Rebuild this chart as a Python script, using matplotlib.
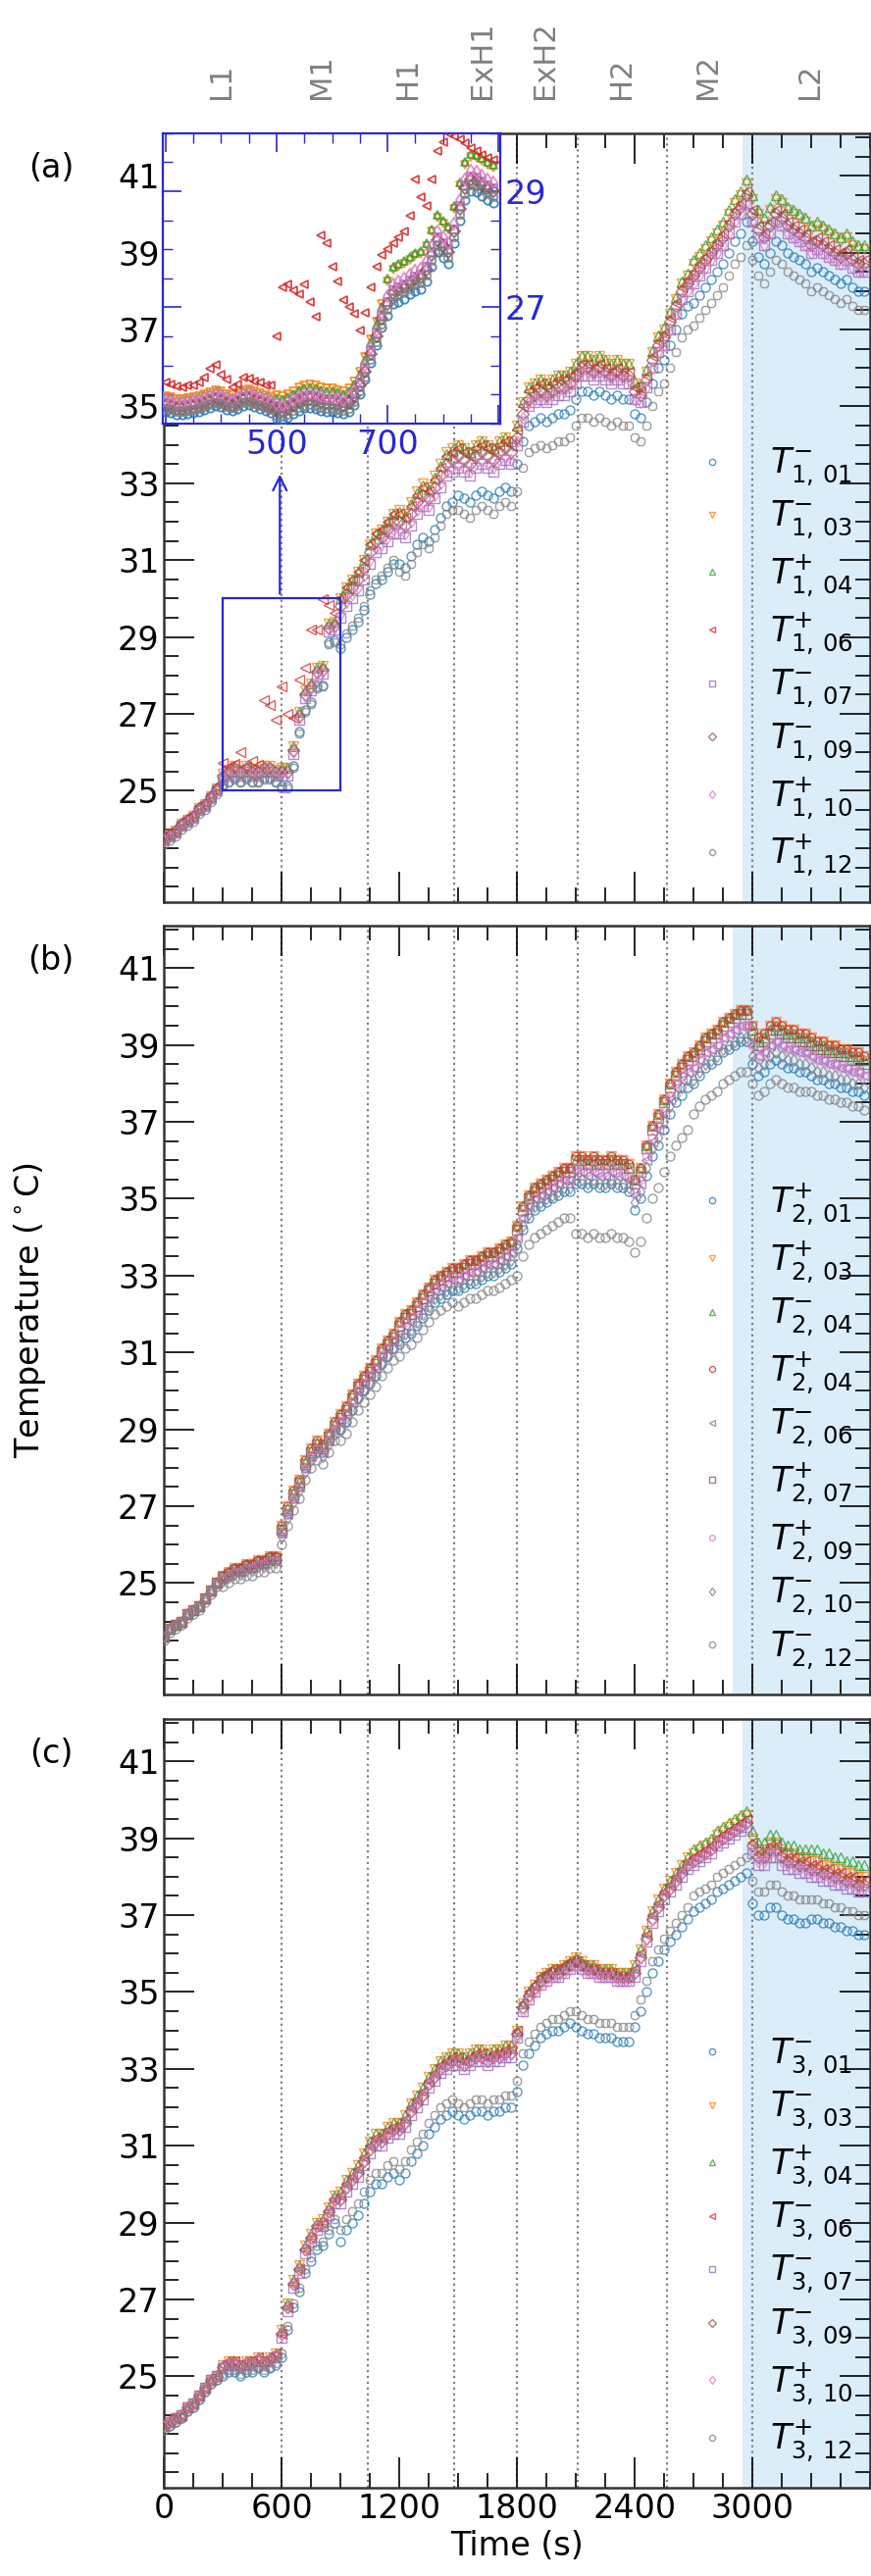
import numpy as np
import matplotlib.pyplot as plt
from matplotlib.patches import Rectangle
from matplotlib.ticker import MultipleLocator
import matplotlib.transforms as mtransforms

# time grid of the main panels (s)
t = np.arange(0, 3600, 30)

# phase boundaries and labels
vlines = [600, 1040, 1480, 1800, 2110, 2565, 3000]
phase_names = ['L1', 'M1', 'H1', 'ExH1', 'ExH2', 'H2', 'M2', 'L2']
phase_pos = [290, 800, 1240, 1620, 1940, 2330, 2770, 3290]
shade_start = [2950, 2900, 2950]

# panel (a) middle curve, every 30 s
base_a = [23.7, 23.8, 23.9, 24.1, 24.2, 24.3, 24.5, 24.6, 24.8, 25.0,
          25.3, 25.4, 25.5, 25.4, 25.5, 25.4, 25.4, 25.5, 25.5, 25.4,
          25.4, 25.4, 25.95, 26.85, 27.4, 27.6, 28.0, 28.05, 29.15, 29.2,
          29.5, 29.8, 30.0, 30.2, 30.5, 30.9, 31.2, 31.3, 31.5, 31.7,
          31.7, 31.6, 31.9, 32.2, 32.4, 32.3, 32.6, 32.9, 33.2, 33.3,
          33.4, 33.3, 33.2, 33.4, 33.5, 33.4, 33.3, 33.5, 33.6, 33.5,
          34.0, 34.6, 35.0, 35.1, 35.2, 35.1, 35.2, 35.3, 35.3, 35.4,
          35.6, 35.8, 35.8, 35.7, 35.8, 35.7, 35.6, 35.7, 35.6, 35.6,
          35.2, 35.1, 35.5, 36.0, 36.4, 36.6, 37.0, 37.4, 37.8, 38.0,
          38.2, 38.4, 38.6, 38.8, 39.0, 39.2, 39.5, 39.8, 40.0, 40.3,
          39.8, 39.4, 39.2, 39.5, 39.8, 39.7, 39.5, 39.4, 39.3, 39.2,
          39.0, 39.1, 39.0, 38.9, 38.8, 38.7, 38.8, 38.6, 38.5, 38.5]

base_b = [23.6, 23.8, 23.9, 24.0, 24.2, 24.3, 24.4, 24.6, 24.8, 25.0,
          25.1, 25.2, 25.3, 25.3, 25.4, 25.4, 25.5, 25.5, 25.6, 25.6,
          26.3, 26.8, 27.2, 27.5, 28.0, 28.3, 28.5, 28.4, 28.7, 29.0,
          29.2, 29.4, 29.7, 30.0, 30.2, 30.4, 30.6, 30.9, 31.1, 31.3,
          31.5, 31.7, 31.8, 32.0, 32.2, 32.4, 32.6, 32.7, 32.8, 32.9,
          32.9, 33.0, 33.1, 33.1, 33.2, 33.3, 33.3, 33.4, 33.5, 33.6,
          34.0, 34.5, 34.8, 35.0, 35.1, 35.2, 35.3, 35.4, 35.5, 35.5,
          35.7, 35.7, 35.6, 35.7, 35.6, 35.6, 35.7, 35.6, 35.6, 35.5,
          35.1, 35.4, 36.0, 36.5, 36.8, 37.2, 37.6, 37.9, 38.1, 38.3,
          38.4, 38.6, 38.8, 38.9, 39.0, 39.2, 39.3, 39.4, 39.5, 39.5,
          39.0, 38.7, 38.8, 39.0, 39.1, 39.0, 38.9, 38.9, 38.8, 38.8,
          38.7, 38.6, 38.6, 38.5, 38.5, 38.4, 38.4, 38.3, 38.3, 38.2]

base_c = [23.7, 23.8, 23.9, 24.0, 24.2, 24.3, 24.5, 24.7, 24.9, 25.0,
          25.2, 25.3, 25.3, 25.2, 25.3, 25.3, 25.4, 25.3, 25.4, 25.5,
          26.0, 26.7, 27.3, 27.7, 28.2, 28.5, 28.8, 28.9, 29.2, 29.5,
          29.5, 29.8, 30.0, 30.2, 30.5, 30.8, 31.0, 31.0, 31.2, 31.3,
          31.3, 31.5, 31.8, 32.0, 32.2, 32.5, 32.7, 32.9, 33.0, 33.1,
          33.1, 33.0, 33.1, 33.2, 33.2, 33.1, 33.2, 33.2, 33.3, 33.3,
          33.8, 34.5, 34.8, 35.0, 35.2, 35.3, 35.4, 35.4, 35.5, 35.6,
          35.7, 35.6, 35.5, 35.5, 35.4, 35.4, 35.4, 35.3, 35.3, 35.3,
          35.4, 35.8, 36.3, 36.8, 37.1, 37.4, 37.6, 37.8, 38.0, 38.2,
          38.3, 38.4, 38.5, 38.6, 38.8, 38.9, 39.0, 39.1, 39.2, 39.3,
          38.6, 38.3, 38.3, 38.5, 38.5, 38.3, 38.2, 38.2, 38.1, 38.1,
          38.0, 38.0, 37.9, 37.9, 37.8, 37.8, 37.7, 37.7, 37.6, 37.6]

# offsets of each sensor from the middle curve, one value per 300 s block
offs_a = [[0, -0.15, -0.3, -0.8, -0.8, -0.7, -0.5, -0.4, -0.4, -0.5, -0.5, -0.5],
          [0.05, 0.15, 0.2, 0.5, 0.6, 0.6, 0.5, 0.5, 0.4, 0.5, 0.6, 0.6],
          [0.05, 0.1, 0.2, 0.5, 0.55, 0.6, 0.5, 0.5, 0.45, 0.6, 0.7, 0.7],
          [0.1, 0.25, 0.4, 0.5, 0.5, 0.5, 0.4, 0.3, 0.3, 0.3, 0.3, 0.3],
          [0, 0, 0, 0, 0, 0, 0, 0, 0, 0, 0, 0],
          [0.05, 0.1, 0.1, 0.3, 0.3, 0.3, 0.2, 0.2, 0.2, 0.2, 0.2, 0.2],
          [0, 0.05, 0.05, 0.1, 0.1, 0.1, 0.1, 0.1, 0.0, 0.0, 0.0, 0.0],
          [-0.1, -0.2, -0.35, -0.7, -1.0, -1.1, -1.2, -1.1, -1.0, -1.1, -1.0, -1.0]]
offs_b = [[0, 0, 0, -0.2, -0.3, -0.3, -0.3, -0.3, -0.4, -0.4, -0.5, -0.5],
          [0, 0.1, 0.2, 0.2, 0.3, 0.3, 0.3, 0.4, 0.4, 0.4, 0.5, 0.5],
          [0, 0.1, 0.15, 0.2, 0.3, 0.3, 0.3, 0.3, 0.4, 0.4, 0.4, 0.4],
          [0, 0.1, 0.2, 0.2, 0.3, 0.3, 0.3, 0.4, 0.4, 0.4, 0.5, 0.5],
          [0, 0, 0, 0, 0, 0, 0, 0, 0, 0, 0, 0],
          [0, 0.05, 0.1, 0.1, 0.2, 0.2, 0.2, 0.3, 0.3, 0.3, 0.3, 0.3],
          [0, 0, 0, 0, 0.1, 0, 0, 0.1, 0.1, 0, 0, 0],
          [0, -0.05, -0.1, -0.2, -0.2, -0.2, -0.2, -0.2, -0.2, -0.3, -0.3, -0.3],
          [-0.1, -0.2, -0.3, -0.5, -0.6, -0.7, -1.0, -1.6, -1.5, -1.2, -1.0, -0.9]]
offs_c = [[-0.1, -0.2, -0.5, -1.0, -1.2, -1.3, -1.4, -1.6, -1.3, -1.2, -1.3, -1.1],
          [0, 0.1, 0.2, 0.3, 0.3, 0.3, 0.2, 0.2, 0.3, 0.3, 0.4, 0.4],
          [0, 0.1, 0.2, 0.3, 0.3, 0.3, 0.2, 0.2, 0.3, 0.4, 0.6, 0.7],
          [0, 0.1, 0.1, 0.2, 0.2, 0.2, 0.2, 0.1, 0.2, 0.2, 0.3, 0.3],
          [0, 0, 0, 0, 0, 0, 0, 0, 0, 0, 0, 0],
          [0, 0.05, 0.1, 0.1, 0.1, 0.1, 0.1, 0.1, 0.1, 0.1, 0.2, 0.2],
          [0, 0.05, 0.1, 0.1, 0.1, 0.1, 0.0, 0.0, 0.1, 0.1, 0.1, 0.1],
          [-0.1, -0.15, -0.4, -0.7, -0.9, -1.0, -1.1, -1.2, -1.0, -0.8, -0.7, -0.6]]

labels_a = ['$T^{-}_{1,\\,01}$', '$T^{-}_{1,\\,03}$', '$T^{+}_{1,\\,04}$', '$T^{+}_{1,\\,06}$',
            '$T^{-}_{1,\\,07}$', '$T^{-}_{1,\\,09}$', '$T^{+}_{1,\\,10}$', '$T^{+}_{1,\\,12}$']
labels_b = ['$T^{+}_{2,\\,01}$', '$T^{+}_{2,\\,03}$', '$T^{-}_{2,\\,04}$', '$T^{+}_{2,\\,04}$',
            '$T^{-}_{2,\\,06}$', '$T^{+}_{2,\\,07}$', '$T^{+}_{2,\\,09}$', '$T^{-}_{2,\\,10}$',
            '$T^{-}_{2,\\,12}$']
labels_c = ['$T^{-}_{3,\\,01}$', '$T^{-}_{3,\\,03}$', '$T^{+}_{3,\\,04}$', '$T^{-}_{3,\\,06}$',
            '$T^{-}_{3,\\,07}$', '$T^{-}_{3,\\,09}$', '$T^{+}_{3,\\,10}$', '$T^{+}_{3,\\,12}$']

markers_8 = ['o', 'v', '^', '<', 's', 'D', 'd', '8']
colors_8 = ['C0', 'C1', 'C2', 'C3', 'C4', 'C5', 'C6', 'C7']
markers_9 = ['o', 'v', '^', '8', '<', 's', 'h', 'd', 'o']
colors_9 = ['C0', 'C1', 'C2', 'C3', 'C4', 'C5', 'C6', 'C7', 'C7']

# inset: zoom of panel (a) between 300 and 900 s, every 10 s
t_in = np.arange(300, 900, 10)
base_in = [25.35, 25.33, 25.30, 25.30, 25.32, 25.33, 25.35, 25.38, 25.42, 25.45,
           25.43, 25.38, 25.36, 25.40, 25.45, 25.47, 25.44, 25.40, 25.37, 25.33,
           25.28, 25.27, 25.30, 25.36, 25.42, 25.46, 25.47, 25.45, 25.42, 25.40,
           25.40, 25.38, 25.36, 25.40, 25.52, 25.70, 25.95, 26.25, 26.55, 26.85,
           27.15, 27.35, 27.40, 27.45, 27.52, 27.58, 27.62, 27.75, 28.00, 28.25,
           28.15, 28.05, 28.40, 28.80, 29.15, 29.30, 29.28, 29.22, 29.15, 29.10]
offs_in = [[-0.15, -0.2, -0.3], [0.12, 0.2, 0.3], [0.1, 0.15, 0.35], [0, 0, 0],
           [0.0, 0.0, -0.05], [-0.05, -0.05, -0.1], [0.05, 0.05, 0.05], [-0.1, -0.15, -0.2]]
red_in = [25.71, 25.68, 25.64, 25.63, 25.66, 25.66, 25.70, 25.80, 25.95, 26.01,
          25.85, 25.76, 25.62, 25.68, 25.79, 25.78, 25.73, 25.70, 25.66, 25.65,
          26.50, 27.35, 27.40, 27.30, 27.23, 27.40, 27.10, 26.84, 28.24, 28.10,
          27.70, 27.45, 27.12, 27.00, 26.89, 26.61, 26.90, 27.35, 27.70, 27.90,
          28.00, 28.10, 28.20, 28.30, 28.58, 29.20, 28.90, 28.75, 29.20, 29.70,
          29.85, 29.99, 29.95, 29.90, 29.82, 29.75, 29.70, 29.62, 29.58, 29.54]

blue = '#2727d6'

plt.rcParams['font.family'] = 'DejaVu Sans'
plt.rcParams['font.size'] = 24
plt.rcParams['mathtext.fontset'] = 'dejavusans'

fig = plt.figure(figsize=(8.88, 26.27), dpi=100)
axw = 720 / 888
ax_a = fig.add_axes([0.1884, 0.6498, axw, 0.2984])
ax_b = fig.add_axes([0.1884, 0.3422, axw, 0.2984])
ax_c = fig.add_axes([0.1884, 0.03426, axw, 0.2984])
axes = [ax_a, ax_b, ax_c]

panels = [(base_a, offs_a, labels_a, markers_8, colors_8),
          (base_b, offs_b, labels_b, markers_9, colors_9),
          (base_c, offs_c, labels_c, markers_8, colors_8)]

for k, ax in enumerate(axes):
    base, offs, labs, mks, cols = panels[k]
    base = np.array(base)
    for i in range(len(labs)):
        y = base + np.repeat(offs[i], 10)
        if k == 0 and i == 3:
            # T1,06 departs from the others in the zoomed window
            y[10:30] = red_in[::3]
        ax.plot(t, y, ls='none', marker=mks[i], mfc='none', mec=cols[i],
                ms=6.5, mew=1.0, alpha=0.75, label=labs[i], zorder=3)
    ax.axvspan(shade_start[k], 3600, color='#dcedfa', zorder=0, lw=0)
    for v in vlines:
        ax.axvline(v, color='gray', ls=':', lw=1.6, zorder=1)
    ax.set_xlim(0, 3600)
    ax.set_ylim(22.1, 42.1)
    ax.set_xticks([0, 600, 1200, 1800, 2400, 3000])
    ax.xaxis.set_minor_locator(MultipleLocator(150))
    ax.set_yticks([25, 27, 29, 31, 33, 35, 37, 39, 41])
    ax.yaxis.set_minor_locator(MultipleLocator(0.5))
    ax.tick_params(which='both', direction='in', top=True, right=True, width=1.2)
    ax.tick_params(which='major', length=22, labelsize=24)
    ax.tick_params(which='minor', length=11)
    for s in ax.spines.values():
        s.set_linewidth(1.8)
        s.set_color('#333333')
    if k < 2:
        ax.tick_params(labelbottom=False)
    ax.text(-0.16, 0.955, '(%s)' % 'abc'[k], transform=ax.transAxes,
            ha='center', va='center', fontsize=24)
    ax.legend(loc='lower right', bbox_to_anchor=(0.975, 0.03), frameon=False,
              fontsize=25, markerscale=0.7, handletextpad=1.2, labelspacing=0.32,
              borderpad=0, borderaxespad=0, handlelength=1.0)

ax_c.set_xlabel('Time (s)', fontsize=24, labelpad=4)
fig.text(0.034, 0.4914, 'Temperature ($^\\circ$C)', rotation=90,
         ha='center', va='center', fontsize=24)

# phase names above panel (a)
trans = mtransforms.blended_transform_factory(ax_a.transData, ax_a.transAxes)
for name, p in zip(phase_names, phase_pos):
    ax_a.text(p, 1.045, name, transform=trans, rotation=90, ha='center',
              va='bottom', color='gray', fontsize=22)

# zoom box and arrow
ax_a.add_patch(Rectangle((300, 25), 600, 5, fill=False, ec=blue, lw=1.6, zorder=4))
ax_a.annotate('', xy=(590, 33.3), xytext=(590, 30.05),
              arrowprops=dict(arrowstyle='->', color=blue, lw=1.6, mutation_scale=25),
              zorder=4)

# inset
ins = fig.add_axes([0.1869, 0.8356, 0.3874, 0.1127])
ins.set_facecolor('white')
for i in range(8):
    if i == 3:
        yi = np.array(red_in)
    else:
        yi = np.array(base_in) + np.repeat(offs_in[i], 20)
    ins.plot(t_in, yi, ls='none', marker=markers_8[i], mfc='none', mec=colors_8[i],
             ms=6, mew=1.3, alpha=0.85, zorder=3 if i != 3 else 4)
ins.set_xlim(295, 903)
ins.set_ylim(25, 30)
ins.set_xticks([300, 500, 700, 900])
ins.set_xticklabels(['', '500', '700', ''])
ins.xaxis.set_minor_locator(MultipleLocator(50))
ins.set_yticks([27, 29])
ins.yaxis.set_minor_locator(MultipleLocator(0.5))
ins.tick_params(which='both', direction='in', top=True, right=True, left=True,
                labelleft=False, labelright=True, colors=blue, labelcolor=blue,
                labelsize=24)
ins.tick_params(which='major', length=14, width=1.2)
ins.tick_params(which='minor', length=7, width=1.0)
for s in ins.spines.values():
    s.set_color(blue)
    s.set_linewidth(1.6)

fig.savefig('out.png', dpi=100)
